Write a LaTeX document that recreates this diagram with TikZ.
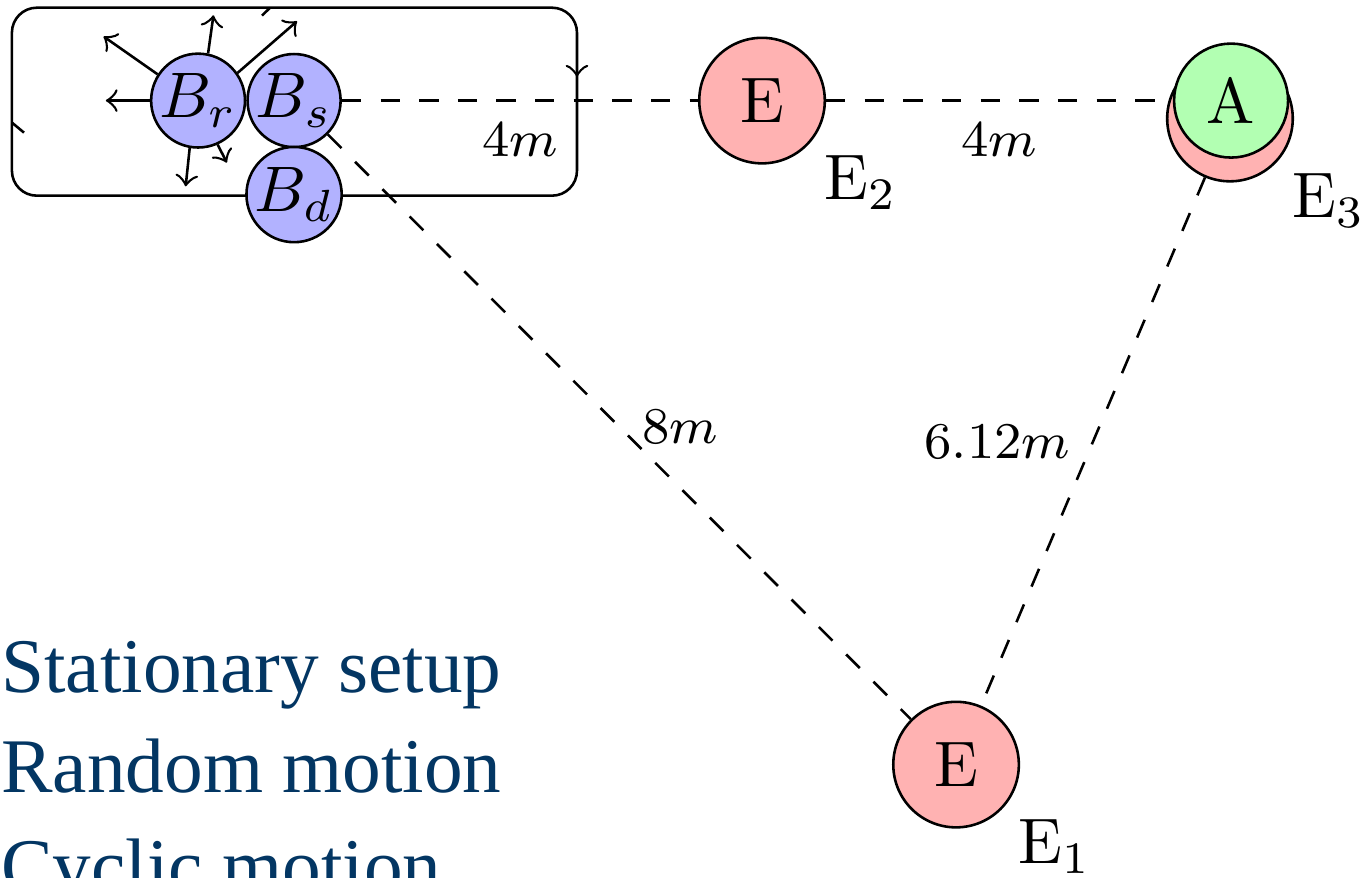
\documentclass[tikz,border=0pt]{standalone}
\usepackage{fontspec}
\newfontfamily\listfont{Liberation Serif}
\definecolor{listblue}{RGB}{3,54,99}

\begin{document}
\begin{tikzpicture}[
        bnode/.style={circle, draw, fill=blue!30, inner sep=0pt, minimum size=14.4pt},
        enode/.style={circle, draw, fill=red!30, minimum size=19.5pt},
        elabel/.style={xshift=-0.9pt, yshift=2pt},
        anode/.style={circle, draw, fill=green!30, inner sep=1pt, minimum size=17.7pt},
        dist/.style={dashed},
        distlabel/.style={font=\fontsize{8.5pt}{10pt}\selectfont},
        listtext/.style={anchor=base west, inner sep=0pt, text=listblue,
            font=\listfont\fontsize{12}{15}\selectfont}
    ]

        % --- Cornice ---
        \useasboundingbox (0,0) rectangle (7.45,4.79);
        \clip (0,0) rectangle (7.45,4.79);

        % --- Area del ciclo (rettangolo arrotondato) ---
        \draw[rounded corners=0.136cm] (0.065,3.722) rectangle (3.149,4.748);
        % segni di verso sul bordo
        \draw[->] (3.149,4.45) -- (3.149,4.372);
        \draw (1.474,4.748) -- (1.430,4.705);
        \draw (0.065,4.121) -- (0.131,4.066);

        % --- Nodi B ---
        \node[bnode] (Br) at (1.081,4.241) {$B_r$};
        \node[bnode] (Bs) at (1.605,4.241) {$B_s$};
        \node[bnode] (Bd) at (1.605,3.728) {$B_d$};

        % --- Nodi E e A ---
        \node[enode, label={[elabel]below right:E$_2$}] (E2) at (4.159,4.241) {E};
        \node[enode, label={[elabel]below right:E$_3$}] (E3) at (6.713,4.143) {};
        \node[anode] (A) at (6.719,4.241) {A};
        \node[enode, label={[elabel]below right:E$_1$}] (E1) at (5.218,0.617) {E};

        % --- Distanze ---
        \draw[dist] (Bs) -- node[distlabel, below] {$4m$} (E2);
        \draw[dist] (E2) -- node[distlabel, below] {$4m$} (A);
        \draw[dist] (Bs) -- node[distlabel, right] {$8m$} (E1);
        \draw[dist] (E3) -- node[distlabel, left] {$6.12m$} (E1);

        % --- Moto casuale di B_r ---
        \foreach \ang/\dir/\len in {180/180/0.24, 147/145/0.36, 78/82/0.21,
                                   35/41/0.43, 260/264/0.21, 294/297/0.11} {
            \draw[->] (Br.\ang) -- ++(\dir:\len);
        }

        % --- Elenco ---
        \foreach \y/\name/\txt in {1.010/stat/Stationary setup,
                                   0.464/rand/Random motion,
                                   -0.082/cyc/Cyclic motion} {
            \node[listtext] (\name) at (0,\y) {\txt};
        }

    \end{tikzpicture}
\end{document}
